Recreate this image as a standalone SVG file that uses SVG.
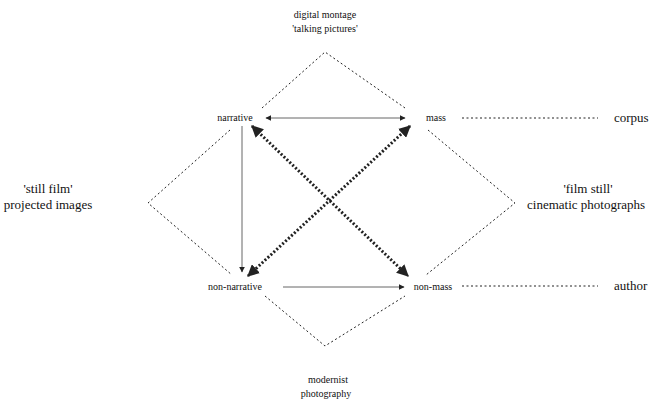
<svg xmlns="http://www.w3.org/2000/svg" width="671" height="406" viewBox="0 0 671 406">
<style>
text{font-family:"Liberation Serif","Times New Roman",serif;font-size:10px;fill:#111;}
.m{text-anchor:middle;}
.big{font-size:13px;}
.dot{fill:none;stroke:#222;stroke-width:1;stroke-dasharray:2,2.5;}
.diag{fill:none;stroke:#222;stroke-width:3;stroke-dasharray:2,2;}
.solid{fill:none;stroke:#666;stroke-width:1;}
</style>
<defs>
<marker id="ah" viewBox="0 0 10 10" refX="9" refY="5" markerWidth="6" markerHeight="6" orient="auto-start-reverse" markerUnits="userSpaceOnUse"><path d="M0,0 L10,5 L0,10 z" fill="#222"/></marker>
<marker id="ahb" viewBox="0 0 10 10" refX="9" refY="5" markerWidth="4" markerHeight="4" orient="auto-start-reverse"><path d="M0,0 L10,5 L0,10 z" fill="#222"/></marker>
</defs>
<g id="connectors">
<polyline class="dot" points="262,108 325,52 405,108"/>
<polyline class="dot" points="230,130 148,203 232,275"/>
<polyline class="dot" points="428,130 515,203 426,275"/>
<polyline class="dot" points="265,296 325,346 405,296"/>
<line class="solid" x1="405" y1="118" x2="266" y2="118" marker-end="url(#ah)" marker-start="url(#ah)"/>
<line class="solid" x1="242" y1="126" x2="242" y2="272" marker-end="url(#ah)"/>
<line class="solid" x1="283" y1="287" x2="404" y2="287" stroke="#222" stroke-width="1.5" marker-end="url(#ah)"/>
<line class="diag" x1="252" y1="126" x2="408" y2="276" marker-end="url(#ahb)" marker-start="url(#ahb)"/>
<line class="diag" x1="410" y1="126" x2="248" y2="276" marker-end="url(#ahb)" marker-start="url(#ahb)"/>
<line class="dot" x1="462" y1="118" x2="598" y2="118"/>
<line class="dot" x1="462" y1="286" x2="598" y2="286"/>
</g>
<g id="top"><text class="m" x="325" y="18">digital montage</text><text class="m" x="325" y="32">'talking pictures'</text></g>
<g id="left"><text class="m big" x="48" y="193">'still film'</text><text class="m big" x="48" y="209">projected images</text></g>
<g id="right"><text class="m big" x="588" y="193">'film still'</text><text class="big" x="527" y="209">cinematic photographs</text></g>
<g id="bottom"><text class="m" x="328" y="383">modernist</text><text class="m" x="326" y="397">photography</text></g>
<g id="n-tl"><text class="m" x="235" y="121">narrative</text></g>
<g id="n-tr"><text class="m" x="436" y="121">mass</text></g>
<g id="n-bl"><text class="m" x="235" y="290">non-narrative</text></g>
<g id="n-br"><text class="m" x="433" y="290">non-mass</text></g>
<g id="x-top"><text class="big" x="614" y="122">corpus</text></g>
<g id="x-bot"><text class="big" x="614" y="290">author</text></g>
</svg>
